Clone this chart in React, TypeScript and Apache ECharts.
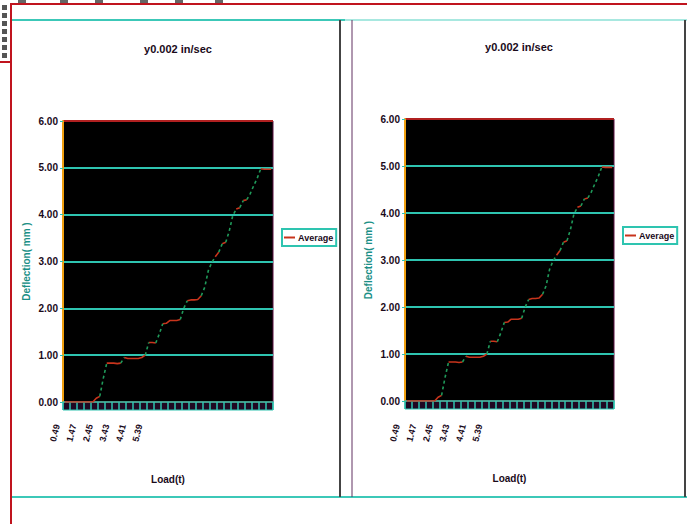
import React, { useEffect, useRef } from "react";
import * as echarts from "echarts";

const chartTitle = "y0.002 in/sec";
const yAxisName = "Deflection( mm )";
const xAxisName = "Load(t)";
const seriesName = "Average";
const yTicks = [0, 1, 2, 3, 4, 5, 6];
const xTickLabels = ["0.49", "1.47", "2.45", "3.43", "4.41", "5.39"];
// deflection readings, one per load step (60 steps)
const deflection = [
  0, 0, 0, 0, 0, 0, 0, 0, 0, 0.08,
  0.12, 0.5, 0.83, 0.83, 0.83, 0.82, 0.83, 0.95, 0.93, 0.93,
  0.93, 0.93, 0.95, 1.0, 1.27, 1.27, 1.26, 1.45, 1.67, 1.68,
  1.74, 1.74, 1.74, 1.76, 2.0, 2.16, 2.18, 2.18, 2.19, 2.27,
  2.45, 2.8, 2.98, 3.1, 3.2, 3.38, 3.41, 3.65, 3.98, 4.12,
  4.15, 4.3, 4.32, 4.45, 4.62, 4.78, 4.98, 4.97, 4.97, 4.97,
];

const TEAL = "#2ec4b0";
const RED = "#c8341c";
const GREEN = "#1f9a5a";
const TXT = "#1a0a1a";
const FONT = "Liberation Sans, Arial, sans-serif";

function buildSegments() {
  const rise = (i: number) => deflection[i + 1] - deflection[i] > 0.11;
  const red: any[] = [];
  const green: any[] = [];
  for (let i = 0; i < deflection.length; i++) {
    const x = i + 0.5;
    red.push([x, deflection[i]]);
    if (i < deflection.length - 1 && rise(i)) red.push([x + 0.5, "-"]);
  }
  for (let i = 0; i < deflection.length - 1; i++) {
    if (rise(i)) {
      green.push([i + 0.5, deflection[i]]);
      green.push([i + 1.5, deflection[i + 1]]);
      if (!(i + 1 < deflection.length - 1 && rise(i + 1))) green.push([i + 2, "-"]);
    }
  }
  return { red, green };
}

const panels = [
  { left: 63, top: 121, width: 210, height: 281, titleX: 178, titleY: 49, legendX: 282, legendY: 229, labelX0: 55, border: { l: 12, r: 340 } },
  { left: 405, top: 119, width: 209, height: 282, titleX: 519, titleY: 47, legendX: 623, legendY: 227, labelX0: 395, border: { l: 352, r: 685 } },
];

export default function App() {
  const ref = useRef<HTMLDivElement>(null);
  useEffect(() => {
    if (!ref.current) return;
    const chart = echarts.init(ref.current, undefined, { renderer: "svg" });
    const { red, green } = buildSegments();

    const grid: any[] = [];
    const xAxis: any[] = [];
    const yAxis: any[] = [];
    const series: any[] = [];
    const legend: any[] = [];
    const graphic: any[] = [];

    // page frame
    graphic.push(
      { type: "rect", shape: { x: 11, y: 4, width: 690, height: 540 }, style: { fill: "none", stroke: "#c0141e", lineWidth: 2 }, z: 10 },
      { type: "line", shape: { x1: 0, y1: 62, x2: 11, y2: 62 }, style: { stroke: "#c0141e", lineWidth: 2 }, z: 10 },
      { type: "line", shape: { x1: 12, y1: 20, x2: 345, y2: 20 }, style: { stroke: "#3cc8b8", lineWidth: 2 }, z: 10 },
      { type: "line", shape: { x1: 345, y1: 20, x2: 687, y2: 20 }, style: { stroke: "#a8e8e0", lineWidth: 2 }, z: 10 },
      { type: "line", shape: { x1: 12, y1: 497, x2: 687, y2: 497 }, style: { stroke: "#3cc8b8", lineWidth: 2 }, z: 10 },
      { type: "line", shape: { x1: 340, y1: 20, x2: 340, y2: 497 }, style: { stroke: "#444", lineWidth: 2 }, z: 10 },
      { type: "line", shape: { x1: 352, y1: 20, x2: 352, y2: 497 }, style: { stroke: "#603060", lineWidth: 1 }, z: 10 },
      { type: "line", shape: { x1: 685, y1: 20, x2: 685, y2: 497 }, style: { stroke: "#444", lineWidth: 2 }, z: 10 }
    );
    for (let k = 0; k < 7; k++) {
      graphic.push({ type: "rect", shape: { x: 2, y: 5 + k * 8, width: 5, height: 5 }, style: { fill: "#555" }, z: 10 });
    }
    [18, 60, 95, 140, 175, 215].forEach((x) => {
      graphic.push({ type: "rect", shape: { x, y: 0, width: 8, height: 3 }, style: { fill: "#666" }, z: 10 });
    });

    panels.forEach((p, idx) => {
      grid.push({ left: p.left, top: p.top, width: p.width, height: p.height, show: true, backgroundColor: "#000", borderColor: "#5a1040", borderWidth: 1 });
      xAxis.push({
        type: "value", gridIndex: idx, min: 0, max: 60, interval: 2,
        axisLabel: { show: false },
        axisLine: { show: true, lineStyle: { color: TEAL, width: 1.5 } },
        axisTick: { show: true, length: 8, lineStyle: { color: TEAL, width: 1.5 } },
        splitLine: { show: false },
        name: xAxisName, nameLocation: "middle", nameGap: 72,
        nameTextStyle: { fontSize: 10, fontWeight: "bold", color: TXT, fontFamily: FONT },
      });
      yAxis.push({
        type: "value", gridIndex: idx, min: yTicks[0], max: yTicks[yTicks.length - 1], interval: 1,
        axisLabel: { fontSize: 10, fontWeight: "bold", color: TXT, fontFamily: FONT, margin: 5, formatter: (v: number) => v.toFixed(2) },
        axisLine: { show: true, lineStyle: { color: "#f0a010", width: 2 } },
        axisTick: { show: true, length: 3, lineStyle: { color: TEAL } },
        splitLine: { show: true, lineStyle: { color: ["#8a1818", TEAL, TEAL, TEAL, TEAL, TEAL, "#b02020"], width: 1.8 } },
        name: yAxisName, nameLocation: "middle", nameGap: 32,
        nameTextStyle: { fontSize: 10, fontWeight: "bold", color: "#1b8f86", fontFamily: FONT },
      });
      series.push({
        type: "line", name: seriesName, xAxisIndex: idx, yAxisIndex: idx, data: red,
        showSymbol: false, symbol: "none", connectNulls: false,
        lineStyle: { color: RED, width: 1.6 }, itemStyle: { color: RED }, z: 3,
      });
      series.push({
        type: "line", name: seriesName + " rise", xAxisIndex: idx, yAxisIndex: idx, data: green,
        showSymbol: false, symbol: "none", connectNulls: false,
        lineStyle: { color: GREEN, width: 1.6, type: [3, 3] }, itemStyle: { color: GREEN }, z: 4,
      });
      legend.push({
        data: [seriesName], left: p.legendX, top: p.legendY, orient: "vertical",
        backgroundColor: "#fff", borderColor: TEAL, borderWidth: 2, borderRadius: 0,
        padding: [4, 3, 4, 2], itemWidth: 11, itemHeight: 2, icon: "rect",
        textStyle: { fontSize: 9, fontWeight: "bold", color: TXT, fontFamily: FONT, padding: [0, 0, 0, -2] },
      });
      graphic.push({
        type: "text", x: p.titleX, y: p.titleY,
        style: { text: chartTitle, fontSize: 11, fontWeight: "bold", fill: TXT, font: `bold 11px ${FONT}`, textAlign: "center", textVerticalAlign: "middle" },
      });
      graphic.push({
        type: "rect", shape: { x: p.left, y: p.top + p.height, width: p.width, height: 8 },
        style: { fill: "#200822", stroke: TEAL, lineWidth: 1 }, z: -1,
      });
      xTickLabels.forEach((t, i) => {
        graphic.push({
          type: "text", x: p.labelX0 + i * 16.5, y: 433, rotation: Math.PI * 0.42,
          style: { text: t, font: `bold 9px ${FONT}`, fill: TXT, textAlign: "center", textVerticalAlign: "middle" },
        });
      });
    });

    chart.setOption({
      animation: false,
      textStyle: { fontFamily: FONT },
      grid, xAxis, yAxis, series, legend, graphic,
    });
    return () => chart.dispose();
  }, []);
  return <div ref={ref} style={{ position: "absolute", left: 0, top: 0, width: 687, height: 524, background: "#fff" }} />;
}
